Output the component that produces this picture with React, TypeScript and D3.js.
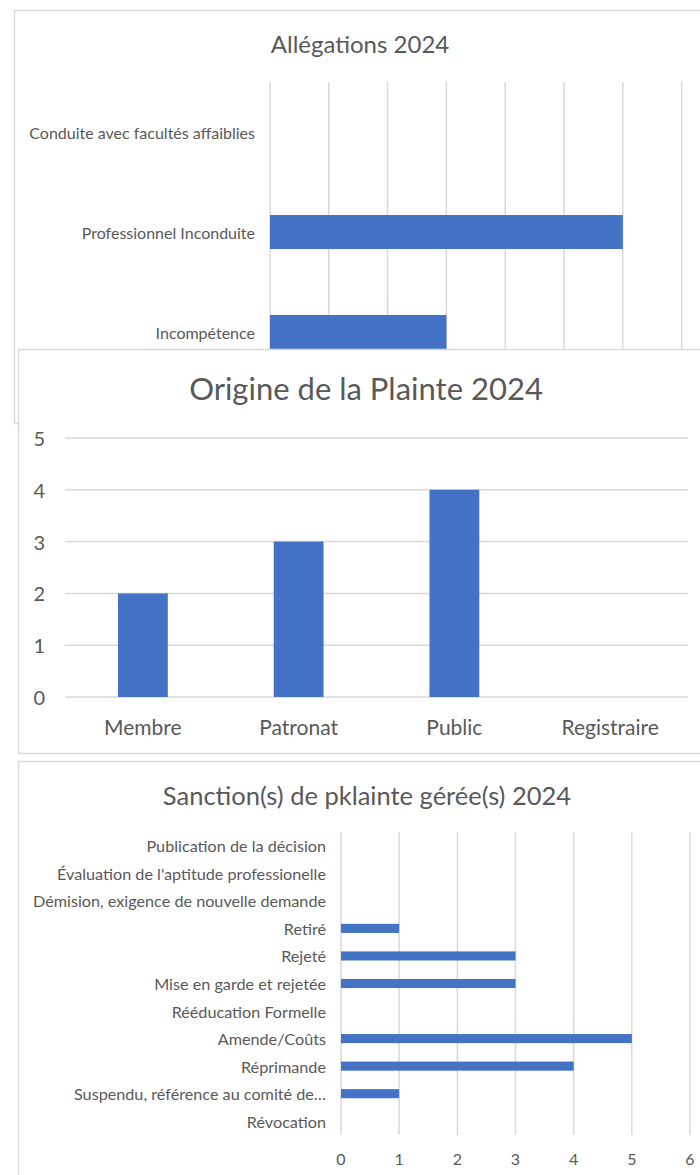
import { useEffect, useRef } from 'react';
import * as d3 from 'd3';

// Allégations 2024 (horizontal bars, partly hidden behind the next chart)
const allegationCategories = ['Conduite avec facultés affaiblies', 'Professionnel Inconduite', 'Incompétence'];
const allegationValues = [0, 6, 3];
const allegationTicks = [0, 1, 2, 3, 4, 5, 6, 7, 8];

// Origine de la Plainte 2024 (vertical bars)
const origineCategories = ['Membre', 'Patronat', 'Public', 'Registraire'];
const origineValues = [2, 3, 4, 0];
const origineTicks = [0, 1, 2, 3, 4, 5];

// Sanction(s) de pklainte gérée(s) 2024 (horizontal bars, listed top to bottom)
const sanctionCategories = [
  'Publication de la décision',
  "Évaluation de l'aptitude professionelle",
  'Démision, exigence de nouvelle demande',
  'Retiré',
  'Rejeté',
  'Mise en garde et rejetée',
  'Rééducation Formelle',
  'Amende/Coûts',
  'Réprimande',
  'Suspendu, référence au comité de…',
  'Révocation',
];
const sanctionValues = [0, 0, 0, 1, 3, 3, 0, 5, 4, 1, 0];
const sanctionTicks = [0, 1, 2, 3, 4, 5, 6];

const COLORS = {
  bar: '#4472c4',
  grid: '#d9d9d9',
  border: '#d9d9d9',
  text: '#595959',
};
const FONT = 'Lato, "Open Sans", sans-serif';

type Sel = d3.Selection<SVGGElement, unknown, null, undefined>;

function drawBox(g: Sel, x: number, y: number, w: number, h: number) {
  g.append('rect')
    .attr('x', x)
    .attr('y', y)
    .attr('width', w)
    .attr('height', h)
    .attr('fill', '#fff')
    .attr('stroke', COLORS.border)
    .attr('stroke-width', 1.5);
}

function drawTitle(g: Sel, x: number, y: number, size: number, text: string) {
  g.append('text')
    .attr('x', x)
    .attr('y', y)
    .attr('text-anchor', 'middle')
    .attr('dominant-baseline', 'central')
    .attr('font-size', size)
    .attr('fill', COLORS.text)
    .text(text);
}

function drawAllegations(g: Sel) {
  drawBox(g, 14.5, 10.5, 720, 413);
  drawTitle(g, 360, 43, 24, 'Allégations 2024');

  const x = d3.scaleLinear().domain([0, 8]).range([270, 270 + 8 * 58.8]);
  const y = d3.scaleBand().domain(allegationCategories).range([82, 382]).paddingInner(0.66).paddingOuter(0.33);

  g.selectAll(null)
    .data(allegationTicks)
    .join('line')
    .attr('x1', (d) => x(d))
    .attr('x2', (d) => x(d))
    .attr('y1', 82)
    .attr('y2', 382)
    .attr('stroke', COLORS.grid)
    .attr('stroke-width', 1.5);

  g.selectAll(null)
    .data(allegationCategories)
    .join('rect')
    .attr('x', x(0))
    .attr('y', (d) => y(d)!)
    .attr('width', (_, i) => x(allegationValues[i]) - x(0))
    .attr('height', y.bandwidth())
    .attr('fill', COLORS.bar);

  g.selectAll(null)
    .data(allegationCategories)
    .join('text')
    .attr('x', 255)
    .attr('y', (d) => y(d)! + y.bandwidth() / 2)
    .attr('text-anchor', 'end')
    .attr('dominant-baseline', 'central')
    .attr('font-size', 16)
    .attr('fill', COLORS.text)
    .text((d) => d);
}

function drawOrigine(g: Sel) {
  drawBox(g, 18.5, 349.5, 720, 404);
  drawTitle(g, 366, 388, 31, 'Origine de la Plainte 2024');

  const x = d3.scaleBand().domain(origineCategories).range([65, 688]).paddingInner(0.68).paddingOuter(0.34);
  const y = d3.scaleLinear().domain([0, 5]).range([697, 438]);

  g.selectAll(null)
    .data(origineTicks)
    .join('line')
    .attr('x1', 65)
    .attr('x2', 688)
    .attr('y1', (d) => y(d))
    .attr('y2', (d) => y(d))
    .attr('stroke', COLORS.grid)
    .attr('stroke-width', 1.5);

  g.selectAll(null)
    .data(origineTicks)
    .join('text')
    .attr('x', 45)
    .attr('y', (d) => y(d))
    .attr('text-anchor', 'end')
    .attr('dominant-baseline', 'central')
    .attr('font-size', 20)
    .attr('fill', COLORS.text)
    .text((d) => d);

  g.selectAll(null)
    .data(origineCategories)
    .join('rect')
    .attr('x', (d) => x(d)!)
    .attr('y', (_, i) => y(origineValues[i]))
    .attr('width', x.bandwidth())
    .attr('height', (_, i) => y(0) - y(origineValues[i]))
    .attr('fill', COLORS.bar);

  g.selectAll(null)
    .data(origineCategories)
    .join('text')
    .attr('x', (d) => x(d)! + x.bandwidth() / 2)
    .attr('y', 726)
    .attr('text-anchor', 'middle')
    .attr('dominant-baseline', 'central')
    .attr('font-size', 21)
    .attr('fill', COLORS.text)
    .text((d) => d);
}

function drawSanctions(g: Sel) {
  drawBox(g, 18.5, 761.5, 720, 450);
  drawTitle(g, 367, 795, 25.5, 'Sanction(s) de pklainte gérée(s) 2024');

  const x = d3.scaleLinear().domain([0, 6]).range([341, 690]);
  const y = d3.scaleBand().domain(sanctionCategories).range([832, 1135]).paddingInner(0.67).paddingOuter(0.335);

  g.selectAll(null)
    .data(sanctionTicks)
    .join('line')
    .attr('x1', (d) => x(d))
    .attr('x2', (d) => x(d))
    .attr('y1', 832)
    .attr('y2', 1135)
    .attr('stroke', COLORS.grid)
    .attr('stroke-width', 1.5);

  g.selectAll(null)
    .data(sanctionTicks)
    .join('text')
    .attr('x', (d) => x(d))
    .attr('y', 1158)
    .attr('text-anchor', 'middle')
    .attr('dominant-baseline', 'central')
    .attr('font-size', 16)
    .attr('fill', COLORS.text)
    .text((d) => d);

  g.selectAll(null)
    .data(sanctionCategories)
    .join('rect')
    .attr('x', x(0))
    .attr('y', (d) => y(d)!)
    .attr('width', (_, i) => x(sanctionValues[i]) - x(0))
    .attr('height', y.bandwidth())
    .attr('fill', COLORS.bar);

  g.selectAll(null)
    .data(sanctionCategories)
    .join('text')
    .attr('x', 326)
    .attr('y', (d) => y(d)! + y.bandwidth() / 2)
    .attr('text-anchor', 'end')
    .attr('dominant-baseline', 'central')
    .attr('font-size', 16.2)
    .attr('fill', COLORS.text)
    .text((d) => d);
}

export default function App() {
  const svgRef = useRef<SVGSVGElement>(null);

  useEffect(() => {
    if (!svgRef.current) return;
    const svg = d3.select(svgRef.current);
    svg.selectAll('*').remove();
    const root = svg.append('g').attr('font-family', FONT);

    drawAllegations(root.append('g'));
    drawOrigine(root.append('g'));
    drawSanctions(root.append('g'));
  }, []);

  return (
    <div style={{ position: 'absolute', left: 0, top: 0, width: 700, height: 1175, overflow: 'hidden', background: '#fff' }}>
      <svg ref={svgRef} width={700} height={1175} role="img" aria-label="Allégations, origine et sanctions des plaintes 2024" />
    </div>
  );
}
